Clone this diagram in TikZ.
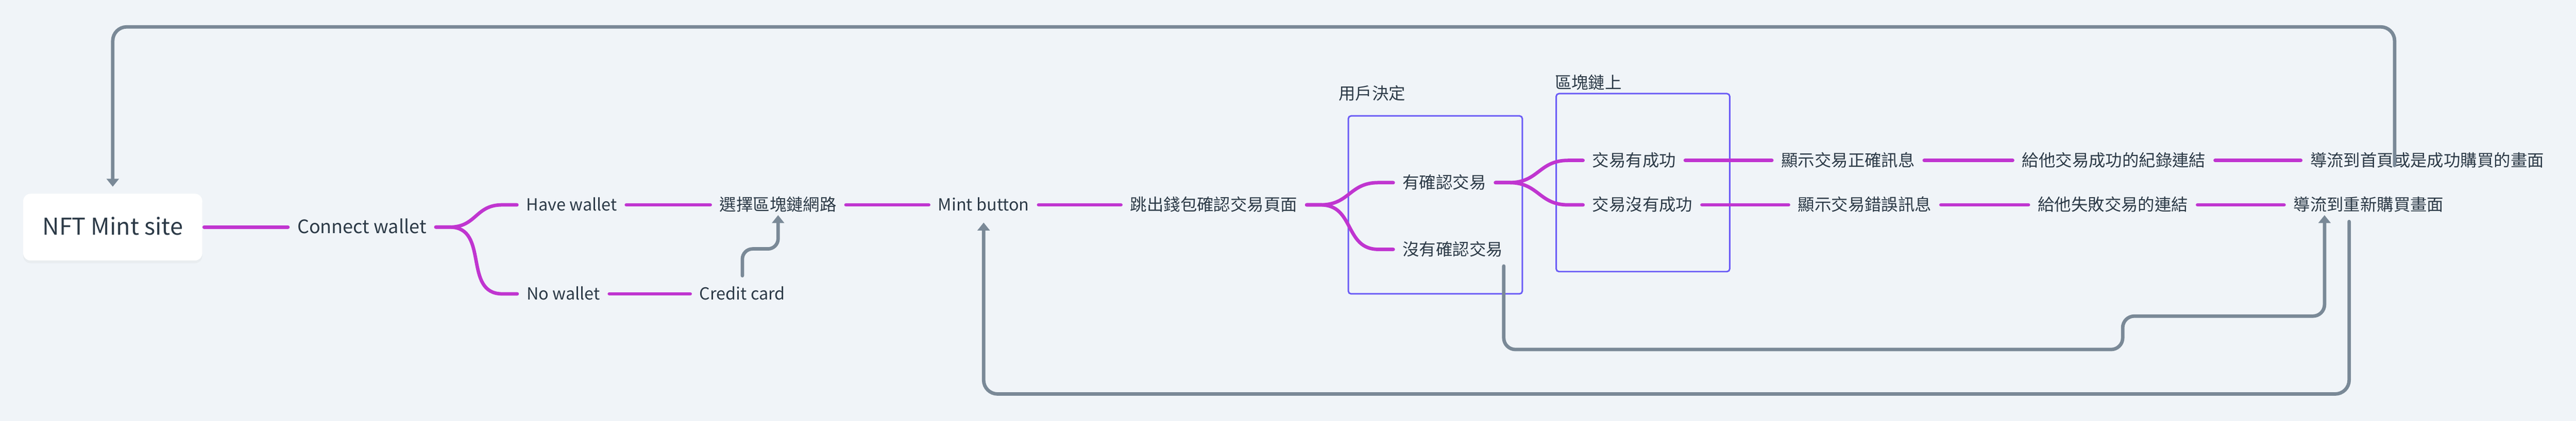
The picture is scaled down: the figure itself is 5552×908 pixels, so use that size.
\documentclass[tikz,border=0pt]{standalone}
\usepackage{fontspec}
\setmainfont{Noto Sans CJK TC}
\usetikzlibrary{arrows.meta,calc,shadows}
\definecolor{bgc}{HTML}{F0F4F8}
\definecolor{txtc}{HTML}{2C3A47}
\definecolor{magc}{HTML}{C035D0}
\definecolor{grayl}{HTML}{7A8997}
\definecolor{grpc}{HTML}{6B5CF6}
\newcommand{\mbranch}[2]{\draw[mline] (#1.east) -- ++(30,0) to[out=0,in=180,looseness=1.2] ($(#2.west)+(-32,0)$) -- (#2.west);}
\begin{document}
\begin{tikzpicture}[x=1pt,y=-1pt,
  lbl/.style={font=\fontsize{36pt}{42pt}\selectfont, text=txtc, inner xsep=20pt, inner ysep=0pt, text height=28pt, text depth=2pt},
  grplbl/.style={lbl, inner xsep=0pt},
  rootbox/.style={fill=white, rounded corners=16pt, minimum width=386pt, minimum height=144pt, inner sep=0pt,
    font=\fontsize{50pt}{56pt}\selectfont, text=txtc, text height=34pt, text depth=0pt,
    drop shadow={opacity=0.06, shadow xshift=0pt, shadow yshift=-6pt}},
  grp/.style={draw=grpc, line width=3.3pt, rounded corners=6pt, inner sep=0pt},
  mline/.style={draw=magc, line width=7.5pt, line cap=round},
  gline/.style={draw=grayl, line width=7.5pt, line cap=round, rounded corners=30pt, -{Triangle[length=17pt,width=26pt]}}
]
\useasboundingbox[fill=bgc] (0,0) rectangle (5552,908);

% group frames
\node[grp, minimum width=375pt, minimum height=384pt] (g1) at (3093.5,442) {};
\node[grp, minimum width=374pt, minimum height=384pt] (g2) at (3541,394) {};
\node[grplbl, anchor=west] (g1t) at (2885,202) {用戶決定};
\node[grplbl, anchor=west] (g2t) at (3351,178) {區塊鏈上};

% nodes
\node[rootbox] (root) at (243,490) {NFT Mint site};
\node[lbl, font=\fontsize{40pt}{46pt}\selectfont, text height=29pt] (cw) at (780,490) {Connect wallet};
\node[lbl] (hw) at (1232,442) {Have wallet};
\node[lbl] (nw) at (1214,634) {No wallet};
\node[lbl] (chain) at (1677,442) {選擇區塊鏈網路};
\node[lbl] (cc) at (1600,634) {Credit card};
\node[lbl] (mint) at (2120,442) {Mint button};
\node[lbl] (popup) at (2616,442) {跳出錢包確認交易頁面};
\node[lbl] (yes) at (3113,394) {有確認交易};
\node[lbl] (no) at (3131,538) {沒有確認交易};
\node[lbl] (ok) at (3522,346) {交易有成功};
\node[lbl] (fail) at (3540,442) {交易沒有成功};
\node[lbl] (showok) at (3983,346) {顯示交易正確訊息};
\node[lbl] (linkok) at (4556,346) {給他交易成功的紀錄連結};
\node[lbl] (homeok) at (5231,346) {導流到首頁或是成功購買的畫面};
\node[lbl] (showfail) at (4019,442) {顯示交易錯誤訊息};
\node[lbl] (linkfail) at (4554,442) {給他失敗交易的連結};
\node[lbl] (retry) at (5105,442) {導流到重新購買畫面};

% magenta tree connectors
\draw[mline, shorten <=3.75pt] (root.east) -- (cw.west);
\mbranch{cw}{hw}
\mbranch{cw}{nw}
\draw[mline] (hw.east) -- (chain.west);
\draw[mline] (nw.east) -- (cc.west);
\draw[mline] (chain.east) -- (mint.west);
\draw[mline] (mint.east) -- (popup.west);
\mbranch{popup}{yes}
\mbranch{popup}{no}
\mbranch{yes}{ok}
\mbranch{yes}{fail}
\draw[mline] (ok.east) -- (showok.west);
\draw[mline] (showok.east) -- (linkok.west);
\draw[mline] (linkok.east) -- (homeok.west);
\draw[mline] (fail.east) -- (showfail.west);
\draw[mline] (showfail.east) -- (linkfail.west);
\draw[mline] (linkfail.east) -- (retry.west);

% gray arrows
\coordinate (s1) at (5161,357);
\coordinate (ytop) at (0,58);
\draw[gline, shorten >=15pt] (s1) |- (root.north |- ytop) -- (root.north);

\coordinate (s2) at (5063,478);
\coordinate (ybot) at (0,850);
\draw[gline, shorten >=23pt] (s2) |- (mint.south |- ybot) -- (mint.south);

\coordinate (s3) at (3241,574);
\coordinate (stepa) at (4575,754);
\coordinate (stepb) at (4575,682);
\coordinate (t3) at ($(retry.south)+(-95,0)$);
\draw[gline, rounded corners=25pt, shorten >=7pt] (s3) |- (stepa) -- (stepb) -| (t3);

\coordinate (ymid) at (0,537);
\draw[gline, rounded corners=22pt, shorten <=24pt, shorten >=7pt] (cc.north) |- (chain.south |- ymid) -- (chain.south);
\end{tikzpicture}
\end{document}
